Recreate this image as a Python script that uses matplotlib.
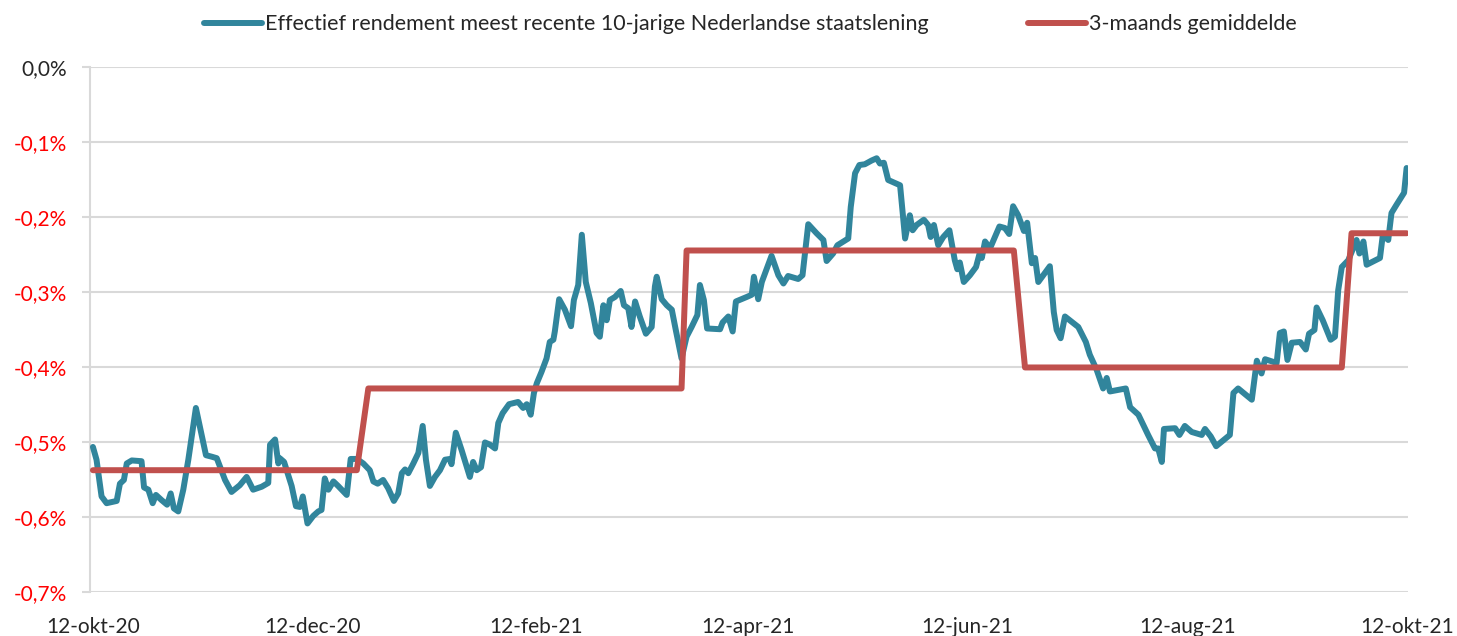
import matplotlib
matplotlib.use('Agg')
import matplotlib.pyplot as plt
import pandas as pd
import numpy as np

plt.rcParams['font.family'] = ['Lato', 'DejaVu Sans']

# days since 12-okt-20 and effective yield (%)
days = [0, 1.0, 2.4, 3.8, 6.6, 7.5, 8.6, 9.4, 10.8, 13.5, 14.2, 15.4, 16.6, 17.5, 19.1,
        20.6, 21.6, 22.5, 23.7, 25.1, 26.5, 28.6, 29.9, 31.4, 33.0, 34.4, 36.7, 38.5,
        40.8, 42.7, 44.5, 46.9, 48.7, 49.2, 50.6, 51.5, 51.9, 53.1, 55.2, 56.4, 57.5,
        58.3, 59.6, 61.2, 62.6, 63.5, 64.4, 65.4, 66.8, 68.1, 70.5, 71.6, 73.3, 75.1,
        76.9, 77.9, 79.1, 80.6, 82.0, 83.6, 84.8, 85.8, 86.7, 87.6, 89.0, 90.4, 91.6,
        92.5, 93.6, 95.0, 96.4, 97.8, 99.2, 99.6, 100.8, 102.4, 103.8, 104.7, 105.6,
        106.6, 107.8, 108.9, 110.3, 111.7, 112.6, 113.8, 115.6, 118.1, 119.5, 120.5,
        121.6, 122.5, 123.3, 124.6, 126.0, 126.9, 127.9, 128.3, 129.5, 131.1, 132.8,
        133.6, 134.8, 135.8, 136.9, 138.3, 139.9, 140.8, 141.8, 142.7, 143.6, 145.0,
        146.6, 147.5, 148.7, 149.6, 150.6, 151.9, 153.6, 155.2, 156.1, 156.6, 158.0,
        159.4, 160.8, 161.9, 163.5, 164.9, 166.3, 167.9, 168.6, 169.7, 170.6, 174.2,
        174.9, 176.5, 177.7, 178.6, 181.6, 183.0, 183.6, 184.8, 185.8, 188.5, 190.4,
        191.8, 193.1, 195.9, 197.1, 198.7, 201.0, 202.9, 203.8, 205.6, 206.8, 209.8,
        210.5, 211.7, 212.9, 214.4, 216.3, 217.7, 218.6, 219.7, 220.9, 224.2, 225.6,
        226.9, 227.7, 228.8, 230.8, 232.0, 232.7, 233.6, 234.8, 236.2, 237.9, 239.4,
        240.1, 240.8, 241.9, 243.6, 245.3, 246.4, 246.9, 247.8, 249.2, 251.8, 253.3,
        254.5, 255.6, 257.0, 258.6, 259.5, 260.8, 261.7, 262.6, 265.8, 266.9, 267.7,
        268.8, 270.0, 273.7, 275.8, 276.9, 278.8, 280.6, 281.6, 282.5, 286.9, 288.1,
        290.4, 293.1, 295.0, 295.9, 296.9, 297.5, 300.6, 301.8, 303.3, 305.2, 308.0,
        308.9, 310.5, 312.0, 315.8, 316.8, 318.1, 321.9, 323.3, 324.6, 325.6, 328.8,
        329.7, 330.8, 331.8, 333.0, 335.3, 336.9, 337.8, 339.3, 339.9, 341.6, 343.8,
        345.0, 345.9, 346.9, 348.7, 351.0, 351.8, 352.9, 353.8, 357.5, 358.3, 359.8,
        360.7, 362.1, 364.2, 364.9]
yield_pct = [-0.507, -0.524, -0.573, -0.582, -0.579, -0.556, -0.551, -0.529, -0.525,
             -0.526, -0.561, -0.564, -0.582, -0.571, -0.578, -0.584, -0.569, -0.589,
             -0.593, -0.564, -0.524, -0.455, -0.484, -0.518, -0.520, -0.522, -0.551,
             -0.567, -0.558, -0.547, -0.564, -0.560, -0.555, -0.504, -0.497, -0.529,
             -0.522, -0.527, -0.559, -0.586, -0.587, -0.573, -0.609, -0.599, -0.593,
             -0.591, -0.549, -0.564, -0.553, -0.559, -0.571, -0.523, -0.523, -0.529,
             -0.538, -0.553, -0.556, -0.551, -0.562, -0.579, -0.569, -0.542, -0.537,
             -0.542, -0.529, -0.515, -0.479, -0.524, -0.559, -0.547, -0.538, -0.524,
             -0.523, -0.530, -0.488, -0.511, -0.533, -0.547, -0.527, -0.538, -0.534,
             -0.501, -0.504, -0.509, -0.475, -0.462, -0.450, -0.447, -0.455, -0.450,
             -0.464, -0.435, -0.422, -0.407, -0.389, -0.367, -0.364, -0.353, -0.310,
             -0.324, -0.346, -0.311, -0.291, -0.224, -0.287, -0.315, -0.355, -0.360,
             -0.318, -0.338, -0.311, -0.307, -0.299, -0.318, -0.322, -0.347, -0.313,
             -0.333, -0.356, -0.347, -0.293, -0.280, -0.310, -0.318, -0.324, -0.351,
             -0.389, -0.360, -0.347, -0.331, -0.291, -0.311, -0.349, -0.350, -0.341,
             -0.333, -0.353, -0.313, -0.307, -0.304, -0.280, -0.310, -0.287, -0.252,
             -0.278, -0.289, -0.279, -0.283, -0.278, -0.210, -0.222, -0.231, -0.259,
             -0.249, -0.238, -0.229, -0.187, -0.142, -0.131, -0.130, -0.125, -0.122,
             -0.129, -0.128, -0.151, -0.158, -0.229, -0.198, -0.218, -0.211, -0.204,
             -0.211, -0.227, -0.211, -0.238, -0.227, -0.218, -0.258, -0.270, -0.261,
             -0.287, -0.278, -0.267, -0.247, -0.255, -0.233, -0.242, -0.213, -0.215,
             -0.223, -0.186, -0.198, -0.219, -0.208, -0.262, -0.255, -0.287, -0.266,
             -0.327, -0.351, -0.362, -0.333, -0.347, -0.367, -0.384, -0.404, -0.429,
             -0.415, -0.433, -0.429, -0.454, -0.464, -0.491, -0.509, -0.509, -0.527,
             -0.483, -0.482, -0.491, -0.479, -0.487, -0.491, -0.483, -0.493, -0.506,
             -0.491, -0.435, -0.429, -0.444, -0.392, -0.409, -0.390, -0.395, -0.355,
             -0.353, -0.391, -0.368, -0.367, -0.377, -0.356, -0.351, -0.321, -0.338,
             -0.364, -0.360, -0.298, -0.267, -0.258, -0.231, -0.249, -0.233, -0.264,
             -0.255, -0.224, -0.231, -0.195, -0.184, -0.168, -0.135]

# 3-month average: levels and the days where each level starts / ends
avg_levels = [-0.538, -0.429, -0.245, -0.401, -0.222]
avg_start = [0, 76.5, 164.9, 258.9, 349.6]
avg_end = [73.3, 163.5, 255.8, 346.9, 364.9]

start_date = pd.Timestamp('2020-10-12')
tick_dates = ['2020-10-12', '2020-12-12', '2021-02-12', '2021-04-12',
              '2021-06-12', '2021-08-12', '2021-10-12']
tick_labels = ['12-okt-20', '12-dec-20', '12-feb-21', '12-apr-21',
               '12-jun-21', '12-aug-21', '12-okt-21']
yticks = [0.0, -0.1, -0.2, -0.3, -0.4, -0.5, -0.6, -0.7]

blue = '#31859C'
red = '#C0504D'
grid_col = '#D9D9D9'
text_col = '#262626'

x_blue = start_date + pd.to_timedelta(days, unit='D')
avg_days, avg_vals = [], []
for lvl, a, b in zip(avg_levels, avg_start, avg_end):
    avg_days += [a, b]
    avg_vals += [lvl, lvl]
x_red = start_date + pd.to_timedelta(avg_days, unit='D')

fig = plt.figure(figsize=(14.57, 6.36), dpi=100)
ax = fig.add_axes([0.0618, 0.0697, 0.9046, 0.8253])

ax.plot(x_blue, yield_pct, color=blue, lw=4.3, solid_joinstyle='round',
        solid_capstyle='round', label='Effectief rendement meest recente 10-jarige Nederlandse staatslening',
        zorder=3)
ax.plot(x_red, avg_vals, color=red, lw=4.3, solid_joinstyle='round',
        solid_capstyle='round', label='3-maands gemiddelde', zorder=4)

ax.set_ylim(-0.7, 0.0)
ax.set_yticks(yticks)
ax.set_yticklabels([('%.1f%%' % v).replace('.', ',') if v != 0 else '0,0%' for v in yticks],
                   fontsize=15)
for lab, v in zip(ax.get_yticklabels(), yticks):
    lab.set_color(text_col if v == 0 else '#FF0000')

ax.set_xlim(start_date - pd.Timedelta(days=0.8), start_date + pd.Timedelta(days=365.3))
ax.set_xticks(pd.to_datetime(tick_dates))
ax.set_xticklabels(tick_labels, fontsize=15, color=text_col)

ax.grid(axis='y', color=grid_col, lw=1.5)
ax.set_axisbelow(True)
ax.tick_params(axis='x', length=0, pad=18.5)
ax.tick_params(axis='y', length=6, width=1.5, color=grid_col, pad=10.5)
for s in ['top', 'right', 'bottom']:
    ax.spines[s].set_visible(False)
ax.spines['left'].set_color(grid_col)
ax.spines['left'].set_linewidth(1.5)

leg = fig.legend(loc='center', bbox_to_anchor=(0.515, 0.962), ncol=2, frameon=False,
                 fontsize=15.5, handlelength=2.7, handletextpad=0.15, columnspacing=4.6)
for t in leg.get_texts():
    t.set_color(text_col)

fig.savefig('out.png', dpi=100)
